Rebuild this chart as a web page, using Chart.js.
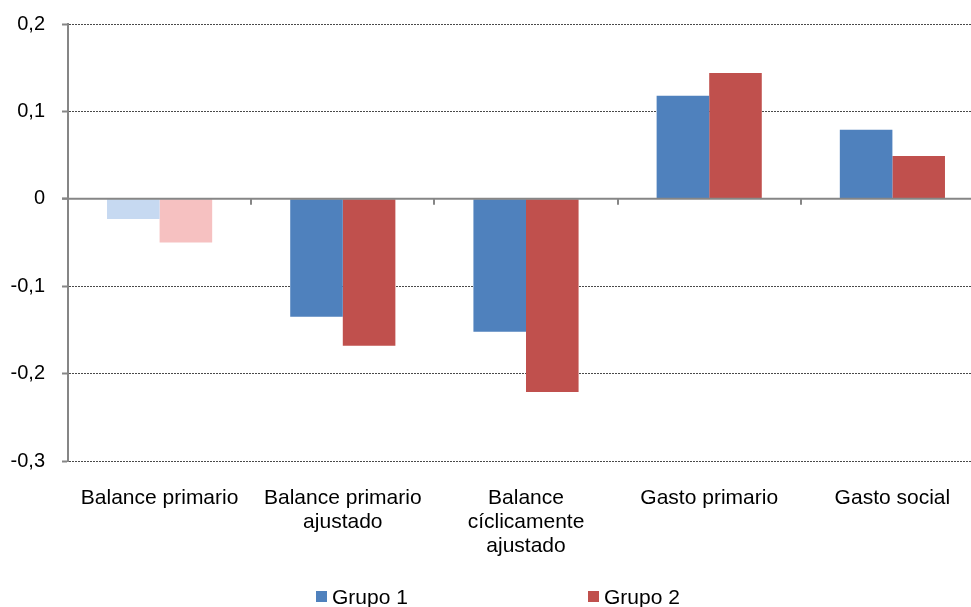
<!DOCTYPE html>
<html>
<head>
<meta charset="utf-8">
<script src="https://cdn.jsdelivr.net/npm/chart.js@4"></script>
<style>
    html, body { margin: 0; padding: 0; background: #fff; overflow: hidden; }
    #wrap { position: relative; width: 990px; height: 607px; }
    .legend-item { position: absolute; top: 586px; line-height: 21px; font-family: "Liberation Sans", Arial, sans-serif; font-size: 21px; color: #000; white-space: nowrap; }
    .legend-box { position: absolute; top: 5px; width: 11px; height: 11px; }
</style>
</head>
<body>
<div id="wrap">
    <canvas id="chart"></canvas>
    <div class="legend-item" style="left:316px"><span class="legend-box" style="left:0;background:#4F81BD"></span><span style="margin-left:16px">Grupo 1</span></div>
    <div class="legend-item" style="left:588px"><span class="legend-box" style="left:0;background:#C0504D"></span><span style="margin-left:16px">Grupo 2</span></div>
</div>
<script>
const CATEGORY_LABELS = [
    'Balance primario',
    ['Balance primario', 'ajustado'],
    ['Balance', 'cíclicamente', 'ajustado'],
    'Gasto primario',
    'Gasto social'
];

const GRUPO_1 = [-0.023, -0.135, -0.152, 0.118, 0.079];
const GRUPO_2 = [-0.050, -0.168, -0.221, 0.144, 0.049];

const GRUPO_1_COLORS = ['#C6D9F1', '#4F81BD', '#4F81BD', '#4F81BD', '#4F81BD'];
const GRUPO_2_COLORS = ['#F6C1C1', '#C0504D', '#C0504D', '#C0504D', '#C0504D'];

const Y_MIN = -0.3;
const Y_MAX = 0.2;
const Y_STEP = 0.1;

const FONT_FAMILY = '"Liberation Sans", Arial, sans-serif';

// solid zero line plus small category ticks hanging from it
const zeroAxisPlugin = {
    id: 'zeroAxis',
    afterDatasetsDraw(chart) {
        const { ctx, chartArea, scales: { x, y } } = chart;
        const y0 = y.getPixelForValue(0);
        ctx.save();
        ctx.strokeStyle = '#868686';
        ctx.lineWidth = 2;
        ctx.beginPath();
        ctx.moveTo(chartArea.left - 6, y0);
        ctx.lineTo(chartArea.right, y0);
        ctx.stroke();
        for(let i = 0; i < CATEGORY_LABELS.length - 1; i++) {
            const bx = Math.round((x.getPixelForValue(i) + x.getPixelForValue(i + 1)) / 2);
            ctx.beginPath();
            ctx.moveTo(bx, y0);
            ctx.lineTo(bx, y0 + 6);
            ctx.stroke();
        }
        ctx.restore();
    }
};

const ctx = document.getElementById('chart').getContext('2d');

new Chart(ctx, {
    type: 'bar',
    data: {
        labels: CATEGORY_LABELS,
        datasets: [
            {
                label: 'Grupo 1',
                data: GRUPO_1,
                backgroundColor: GRUPO_1_COLORS,
                borderWidth: 0,
                categoryPercentage: 0.574,
                barPercentage: 1.0
            },
            {
                label: 'Grupo 2',
                data: GRUPO_2,
                backgroundColor: GRUPO_2_COLORS,
                borderWidth: 0,
                categoryPercentage: 0.574,
                barPercentage: 1.0
            }
        ]
    },
    options: {
        responsive: true,
        maintainAspectRatio: false,
        animation: false,
        layout: {
            padding: { top: 24, right: 6, bottom: 0, left: 0 }
        },
        plugins: {
            legend: { display: false },
            tooltip: { enabled: false }
        },
        scales: {
            x: {
                grid: { display: false, drawTicks: false },
                border: { display: false },
                ticks: {
                    color: '#000',
                    font: { family: FONT_FAMILY, size: 21, lineHeight: 1.15 },
                    padding: 25,
                    maxRotation: 0,
                    autoSkip: false
                },
                afterFit: function(scale) {
                    scale.height = 146;
                }
            },
            y: {
                min: Y_MIN,
                max: Y_MAX,
                grid: {
                    color: function(context) {
                        return Math.abs(context.tick.value) < 1e-9 ? 'rgba(0,0,0,0)' : '#4a4a4a';
                    },
                    lineWidth: 1,
                    tickLength: 6,
                    tickColor: '#868686',
                    tickWidth: 2
                },
                border: {
                    display: true,
                    color: '#868686',
                    width: 2,
                    dash: [2, 1]
                },
                ticks: {
                    stepSize: Y_STEP,
                    color: '#000',
                    font: { family: FONT_FAMILY, size: 20 },
                    padding: 17,
                    callback: function(value) {
                        if(Math.abs(value) < 1e-9) return '0';
                        return value.toFixed(1).replace('.', ',');
                    }
                },
                afterFit: function(scale) {
                    scale.width = 68;
                    scale.paddingTop = 0;
                    scale.paddingBottom = 0;
                }
            }
        }
    },
    plugins: [zeroAxisPlugin]
});
</script>
</body>
</html>
